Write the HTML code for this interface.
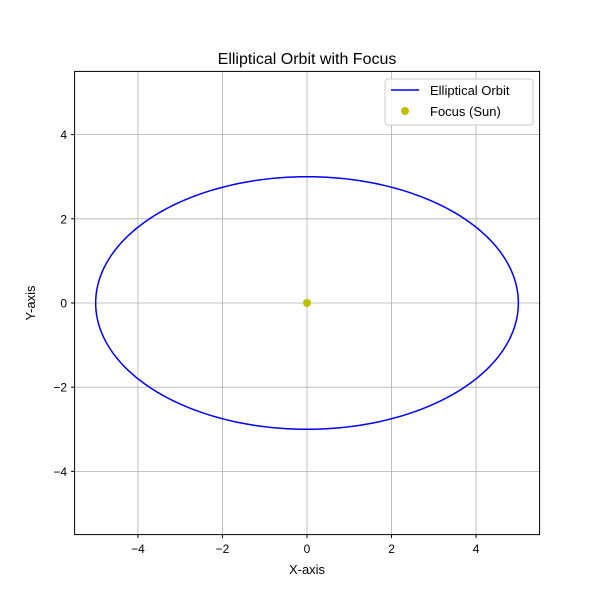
<!DOCTYPE html>
<html><head><meta charset="utf-8"><style>
body{margin:0;background:#fff;}
svg text{font-family:"Liberation Sans","DejaVu Sans",sans-serif;fill:#000;}
</style></head><body>
<svg id="chart" width="600" height="600" viewBox="0 0 600 600">
<rect width="600" height="600" fill="#fff"/>
<g id="grid"></g>
<g id="ticks"></g>
<g id="series"></g>
<rect x="74.6" y="71.4" width="465" height="463.2" fill="none" stroke="#000" stroke-width="1"/>
<text x="307" y="64" font-size="16" text-anchor="middle">Elliptical Orbit with Focus</text>
<text x="307" y="574" font-size="13" text-anchor="middle">X-axis</text>
<text x="35" y="303" font-size="13" text-anchor="middle" transform="rotate(-90 35 303)">Y-axis</text>
<g>
<rect x="385" y="79" width="148" height="46" rx="3" fill="#fff" fill-opacity="0.8" stroke="#ccc"/>
<g>
<line x1="391" y1="90" x2="419" y2="90" stroke="#0000ff" stroke-width="1.5"/>
<text x="430" y="95" font-size="13">Elliptical Orbit</text></g>
<g>
<circle cx="405" cy="111" r="4" fill="#bfbf00"/>
<text x="430" y="116" font-size="13">Focus (Sun)</text></g>
</g>
</svg>
<script>
const xTicks=[-4,-2,0,2,4];
const yTicks=[-4,-2,0,2,4];
const semiAxisX=[5];
const semiAxisY=[3];
const focusX=[0];
const focusY=[0];
const NS="http://www.w3.org/2000/svg";
const sx=v=>307+v*42.27, sy=v=>303-v*42.1;
const grid=document.getElementById('grid'),ticks=document.getElementById('ticks'),ser=document.getElementById('series');
function mk(tag,attrs,parent){const e=document.createElementNS(NS,tag);for(const k in attrs)e.setAttribute(k,attrs[k]);parent.appendChild(e);return e;}
xTicks.forEach(t=>{const x=sx(t);
const g=mk('line',{x1:x,x2:x,y1:71.4,y2:534.6,stroke:'#b0b0b0','stroke-width':0.8},grid);


mk('line',{x1:x,x2:x,y1:534.6,y2:538.1,stroke:'#000'},ticks);
const tx=mk('text',{x:x,y:553,'font-size':12,'text-anchor':'middle'},ticks);tx.textContent=(t<0?'\u2212'+(-t):t);

});
yTicks.forEach(t=>{const y=sy(t);
const g=mk('line',{x1:74.6,x2:539.6,y1:y,y2:y,stroke:'#b0b0b0','stroke-width':0.8},grid);


mk('line',{x1:71.1,x2:74.6,y1:y,y2:y,stroke:'#000'},ticks);
const tx=mk('text',{x:67,y:y+4.5,'font-size':12,'text-anchor':'end'},ticks);tx.textContent=(t<0?'\u2212'+(-t):t);

});
let d='';for(let i=0;i<=200;i++){const th=i/200*2*Math.PI;d+=(i?'L':'M')+sx(semiAxisX[0]*Math.cos(th))+' '+sy(semiAxisY[0]*Math.sin(th));}
const p=mk('path',{d:d,fill:'none',stroke:'#0000ff','stroke-width':1.5},ser);


const c=mk('circle',{cx:sx(focusX[0]),cy:sy(focusY[0]),r:4,fill:'#bfbf00'},ser);


</script>
</body></html>
